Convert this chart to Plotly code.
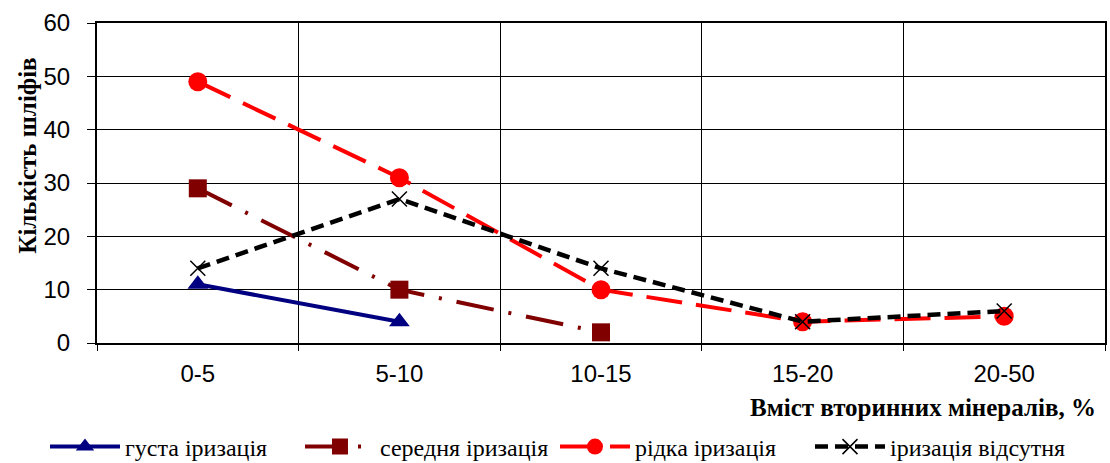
import plotly.graph_objects as go

categories = ["0-5", "5-10", "10-15", "15-20", "20-50"]
gusta = [11, 4]
serednia = [29, 10, 2]
ridka = [49, 31, 10, 4, 5]
vidsutnia = [14, 27, 14, 4, 6]
y_ticks = [0, 10, 20, 30, 40, 50, 60]

SERIF = "Liberation Serif"
SANS = "Liberation Sans"

fig = go.Figure()
fig.add_trace(go.Scatter(x=categories[:len(gusta)], y=gusta, name="густа іризація",
    mode="lines+markers", line=dict(color="#000080", width=4),
    marker=dict(symbol="triangle-up", size=18, color="#000080")))
fig.add_trace(go.Scatter(x=categories[:len(serednia)], y=serednia, name="середня іризація",
    mode="lines+markers", line=dict(color="#800000", width=4, dash="38px,15px,3px,15px"),
    marker=dict(symbol="square", size=18, color="#800000")))
fig.add_trace(go.Scatter(x=categories, y=ridka, name="рідка іризація",
    mode="lines+markers", line=dict(color="#FF0000", width=4, dash="36px,14px"),
    marker=dict(symbol="circle", size=19, color="#FF0000")))
fig.add_trace(go.Scatter(x=categories, y=vidsutnia, name="іризація відсутня",
    mode="lines+markers", line=dict(color="#000000", width=4.5, dash="13px,7px"),
    marker=dict(symbol="x-thin-open", size=15, line=dict(color="#000000", width=1.5), color="#000000")))

fig.update_layout(
    width=1110, height=463,
    margin=dict(l=97, r=5, t=23, b=120, autoexpand=False),
    paper_bgcolor="white", plot_bgcolor="white",
    font=dict(family=SANS, color="black"),
    showlegend=True,
    legend=dict(orientation="h", x=-0.0516, xanchor="left", y=-0.325, yanchor="middle",
                font=dict(family=SERIF, size=24, color="black"),
                itemwidth=70, entrywidth=170, tracegroupgap=0),
    annotations=[
        dict(text="<b>Вміст вторинних мінералів, %</b>", xref="paper", yref="paper",
             x=0.993, y=-0.2, xanchor="right", yanchor="middle", showarrow=False,
             font=dict(family=SERIF, size=25, color="black")),
        dict(text="<b>Кількість шліфів</b>", xref="paper", yref="paper",
             x=-0.0685, y=0.585, xanchor="center", yanchor="middle", showarrow=False,
             textangle=-90, font=dict(family=SERIF, size=25, color="black")),
    ],
)
fig.update_xaxes(type="category", categoryorder="array", categoryarray=categories,
    range=[-0.5, len(categories) - 0.5],
    showgrid=True, gridcolor="black", gridwidth=1, tickson="boundaries",
    ticks="outside", ticklen=6, tickcolor="black", ticklabelstandoff=8,
    showline=True, linecolor="black", linewidth=2, mirror=True,
    tickfont=dict(size=24, family=SANS, color="black"))
fig.update_yaxes(range=[0, 60], tickvals=y_ticks, showgrid=True, gridcolor="black", gridwidth=1,
    ticks="outside", ticklen=8, tickcolor="black", ticklabelstandoff=12,
    showline=True, linecolor="black", linewidth=2, mirror=True, zeroline=False,
    tickfont=dict(size=24, family=SANS, color="black"))

fig.write_html("out.html")
